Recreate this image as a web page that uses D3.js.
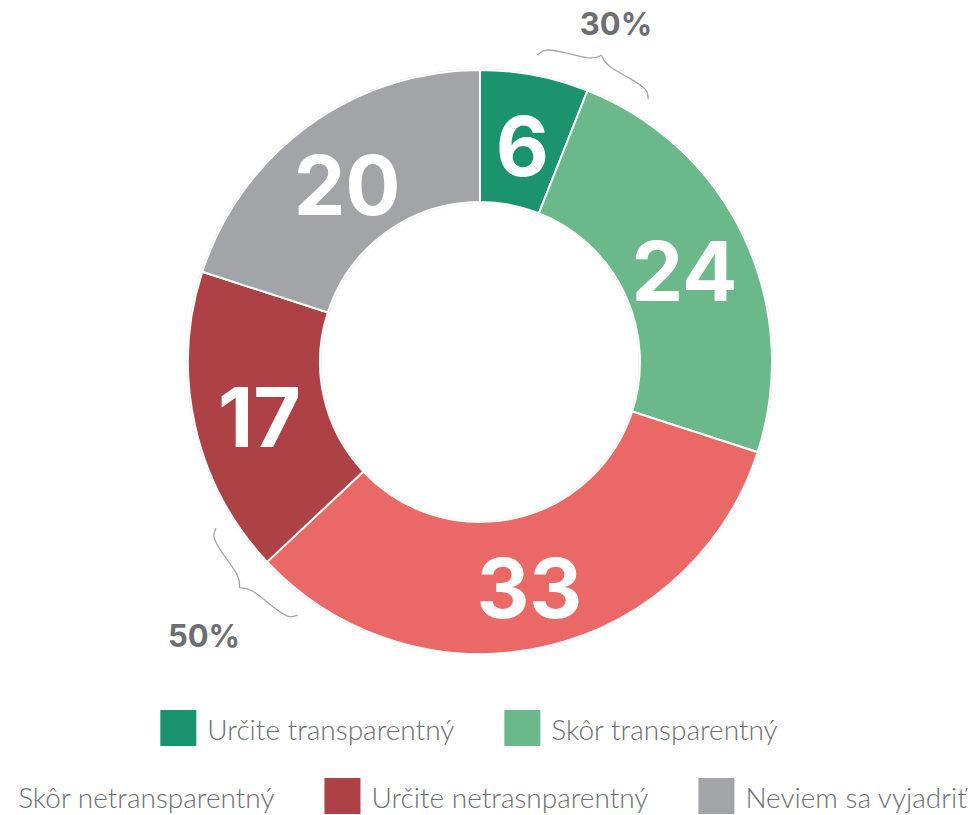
<!DOCTYPE html>
<html>
<head>
<meta charset="utf-8">
<script src="https://cdn.jsdelivr.net/npm/d3@7"></script>
<style>
  html, body { margin: 0; padding: 0; background: #fff; overflow: hidden; }
</style>
</head>
<body>
<svg id="chart" width="974" height="815"></svg>
<script>
// data
const categories = ["Určite transparentný", "Skôr transparentný", "Skôr netransparentný", "Určite netrasnparentný", "Neviem sa vyjadriť"];
const values = [6, 24, 33, 17, 20];
const colors = ["#1a936e", "#6bb98b", "#ea6866", "#ae4146", "#a2a4a7"];
// legend order as in the picture
const legendRows = [[0, 1], [2, 3, 4]];
// brackets: label + index of the slice boundary they sit on
const brackets = [
    { text: "30%", boundary: 1 },
    { text: "50%", boundary: 3 }
];

const svg = d3.select("#chart");
const cx = 480, cy = 362;
const outerR = 292, innerR = 160;
const textGrey = "#6d6e71";

const g = svg.append("g").attr("transform", `translate(${cx},${cy})`);

const pie = d3.pie().sort(null).value(d => d);
const arcs = pie(values);
const arc = d3.arc().innerRadius(innerR).outerRadius(outerR);
const labelArc = d3.arc().innerRadius(226).outerRadius(226);

//faint outline round the ring
g.append("circle").attr("r", outerR + 0.8).attr("fill", "none")
    .attr("stroke", "#e2e2e2").attr("stroke-width", 1);
g.append("circle").attr("r", innerR - 0.8).attr("fill", "none")
    .attr("stroke", "#ececec").attr("stroke-width", 1);

g.selectAll("path.slice")
    .data(arcs)
    .enter()
    .append("path")
    .attr("class", "slice")
    .attr("d", arc)
    .attr("fill", (d, i) => colors[i])
    .attr("stroke", "#fff")
    .attr("stroke-width", 2);

g.selectAll("text.val")
    .data(arcs)
    .enter()
    .append("text")
    .attr("class", "val")
    .attr("x", d => labelArc.centroid(d)[0])
    .attr("y", d => labelArc.centroid(d)[1] + 6)
    .attr("text-anchor", "middle")
    .attr("dy", "0.36em")
    .attr("fill", "#fff")
    .style("font-family", "Inter, 'Open Sans', sans-serif")
    .style("font-weight", 700)
    .style("font-size", "82px")
    .text(d => d.data);

//curly brackets outside the ring
const braceHalf = [[0, 0], [0.04, 8], [0.2, 9], [0.44, 10], [0.5, 18]];
function bracePath(center, span, baseR) {
    const toXY = ([u, h]) => {
        const a = center - span / 2 + u * span;
        return [(baseR + h) * Math.sin(a), -(baseR + h) * Math.cos(a)];
    };
    const line = d3.line().curve(d3.curveBasis);
    const left = braceHalf.map(toXY);
    const right = braceHalf.map(([u, h]) => toXY([1 - u, h]));
    return line(left) + line(right);
}

brackets.forEach((b, k) => {
    const angle = arcs[b.boundary].startAngle;
    g.append("path")
        .attr("d", bracePath(angle, 22 * Math.PI / 180, 312))
        .attr("fill", "none")
        .attr("stroke", "#a5a5a5")
        .attr("stroke-width", 1.3);
});

// annotation texts
const annoPos = [[616, 35], [204, 647]];
brackets.forEach((b, k) => {
    svg.append("text")
        .attr("x", annoPos[k][0])
        .attr("y", annoPos[k][1])
        .attr("text-anchor", "middle")
        .attr("fill", textGrey)
        .style("font-family", "Inter, 'Open Sans', sans-serif")
        .style("font-weight", 700)
        .style("font-size", "31px")
        .text(b.text);
});

//legend (the picture cuts it off at the left edge)
svg.append("clipPath").attr("id", "legendClip")
    .append("rect").attr("x", 10).attr("y", 690).attr("width", 964).attr("height", 125);
const legend = svg.append("g").attr("clip-path", "url(#legendClip)");
const sw = 36, gapText = 11, gapItem = 50;
const rowY = [710, 778];
const legendCenter = 469;
legendRows.forEach((row, r) => {
    const rowG = legend.append("g");
    let x = 0;
    row.forEach(i => {
        rowG.append("rect")
            .attr("x", x).attr("y", rowY[r])
            .attr("width", sw).attr("height", sw)
            .attr("fill", colors[i]);
        const t = rowG.append("text")
            .attr("x", x + sw + gapText)
            .attr("y", rowY[r] + 30)
            .attr("fill", textGrey)
            .style("font-family", "Lato, sans-serif")
            .style("font-weight", 300)
            .style("font-size", "28px")
            .text(categories[i]);
        x += sw + gapText + t.node().getComputedTextLength() + gapItem;
    });
    const total = x - gapItem;
    rowG.attr("transform", `translate(${legendCenter - total / 2},0)`);
});
</script>
</body>
</html>
